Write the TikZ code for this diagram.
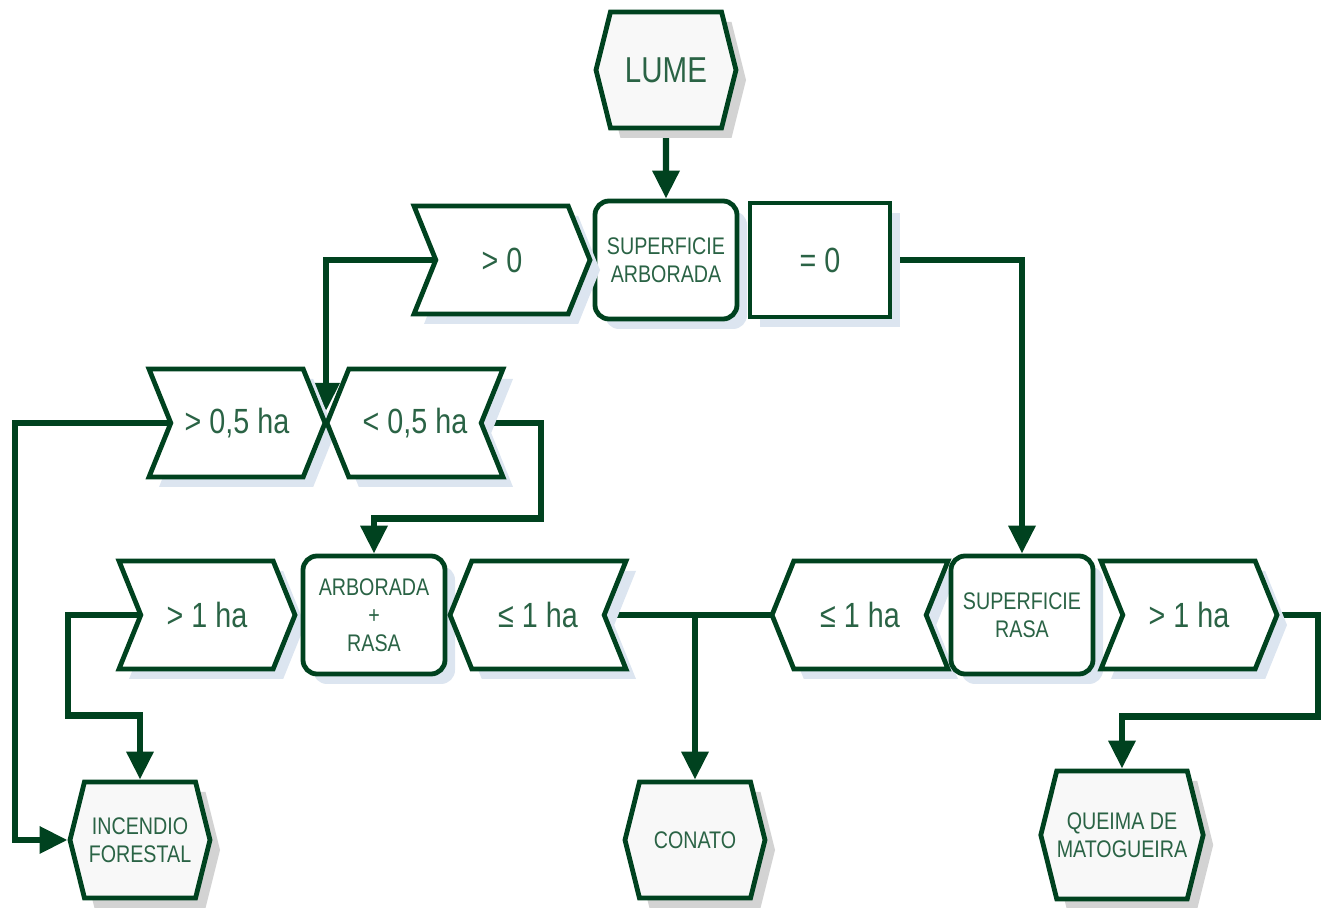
\documentclass[tikz,border=0pt]{standalone}
\usepackage{fontspec}
\setmainfont{Liberation Sans}[FakeStretch=0.82]
\usetikzlibrary{shapes.symbols,arrows.meta,shadows,backgrounds,calc}

\definecolor{dkgreen}{HTML}{00421F}
\definecolor{txtgreen}{HTML}{2A6345}
\definecolor{termfill}{HTML}{F8F8F8}
\definecolor{shgray}{HTML}{D3D3D3}
\definecolor{shblue}{HTML}{DCE5F0}

\begin{document}
\begin{tikzpicture}
  [x=0.5pt,y=-0.5pt,
   baseN/.style={draw=dkgreen,line width=2.4pt,text=txtgreen,align=center,
     inner sep=0pt,font=\fontsize{12}{14}\selectfont},
   termN/.style={baseN,signal,signal to=east and west,signal pointer angle=152,
     fill=termfill,minimum width=70pt,minimum height=58pt,
     drop shadow={shadow xshift=5pt,shadow yshift=-5pt,fill=shgray,opacity=1}},
   boxN/.style={baseN,rectangle,rounded corners=7pt,fill=white,
     minimum width=71pt,minimum height=59pt,
     drop shadow={shadow xshift=5pt,shadow yshift=-5pt,fill=shblue,opacity=1}},
   rectN/.style={baseN,rectangle,fill=white,minimum width=70pt,minimum height=57pt,
     font=\fontsize{17.5}{20}\selectfont,
     drop shadow={shadow xshift=5pt,shadow yshift=-5pt,fill=shblue,opacity=1}},
   chevN/.style={baseN,signal,signal pointer angle=136,fill=white,
     minimum width=88pt,minimum height=54pt,font=\fontsize{17.5}{20}\selectfont,
     drop shadow={shadow xshift=5pt,shadow yshift=-5pt,fill=shblue,opacity=1}},
   rightN/.style={chevN,signal from=west,signal to=east},
   leftN/.style={chevN,signal from=east,signal to=west},
   wire/.style={draw=dkgreen,line width=3.2pt},
   flow/.style={wire,-{Triangle[length=14pt,width=13pt]}}]

  \useasboundingbox (0,0) rectangle (1330,908);

  % top
  \node[termN,font=\fontsize{18}{20}\selectfont] (lume) at (666,70) {LUME};
  \node[boxN] (sa) at (666,260) {SUPERFICIE\\ARBORADA};
  \node[rightN] (gt0) at (502,260) {> 0};
  \node[rectN] (eq0) at (820,260) {= 0};

  % second row
  \node[rightN] (gt05) at (237,423) {> 0,5 ha};
  \node[leftN] (lt05) at (415,423) {< 0,5 ha};

  % third row
  \node[rightN] (gt1a) at (207,615) {> 1 ha};
  \node[boxN] (ar) at (374,615) {ARBORADA\\+\\RASA};
  \node[leftN] (le1a) at (538,615) {≤ 1 ha};
  \node[leftN] (le1b) at (860,615) {≤ 1 ha};
  \node[boxN] (sr) at (1022,615) {SUPERFICIE\\RASA};
  \node[rightN] (gt1b) at (1189,615) {> 1 ha};

  % results
  \node[termN] (incendio) at (140,840) {INCENDIO\\FORESTAL};
  \node[termN] (conato) at (695,840) {CONATO};
  \node[termN,minimum height=64pt] (queima) at (1122,835) {QUEIMA DE\\MATOGUEIRA};

  \begin{scope}[on background layer]
    \draw[flow] (lume) -- (sa);
    \draw[flow,shorten >=6pt] (gt0.center) -| ($(gt05.center)!.5!(lt05.center)$);
    \draw[flow] (eq0.center) -| (sr.north);
    \draw[flow] (gt05.center) -- ([xshift=-111pt]gt05.center) |- (incendio.west);
    \draw[flow] (lt05.center) -- ([xshift=63pt]lt05.center)
      |- ([yshift=17.5pt]ar.north) -- (ar.north);
    \draw[flow] (gt1a.center) -- ([xshift=-69.5pt]gt1a.center)
      |- ([yshift=32pt]incendio.north) -- (incendio.north);
    \draw[wire] (le1a.center) -- (le1b.center);
    \draw[flow] (le1a.center -| conato.north) -- (conato.north);
    \draw[flow] (gt1b.center) -- ([xshift=64.5pt]gt1b.center)
      |- ([yshift=26pt]queima.north) -- (queima.north);
  \end{scope}
\end{tikzpicture}
\end{document}
